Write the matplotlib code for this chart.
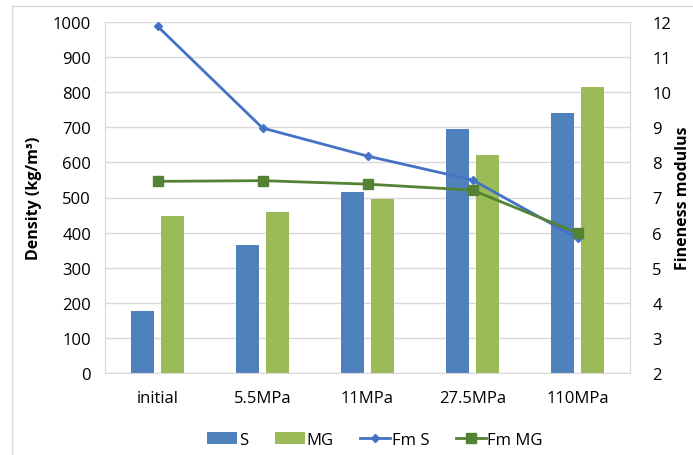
import numpy as np
import matplotlib.pyplot as plt
from matplotlib.patches import Rectangle

plt.rcParams['font.family'] = ['Open Sans', 'DejaVu Sans']

categories = ['initial', '5.5MPa', '11MPa', '27.5MPa', '110MPa']
density_s = [177, 365, 517, 696, 740]
density_mg = [447, 460, 495, 621, 814]
fm_s = [11.88, 8.98, 8.18, 7.50, 5.84]
fm_mg = [7.46, 7.48, 7.38, 7.21, 5.99]

blue_bar = '#4F81BD'
green_bar = '#9BBB59'
blue_line = '#4472C4'
green_line = '#548235'
grid_col = '#D9D9D9'

fig = plt.figure(figsize=(6.93, 4.56), dpi=100)
ax = fig.add_axes([105 / 693, 1 - 374 / 456, 525 / 693, 351 / 456])
ax2 = ax.twinx()

x = np.arange(len(categories))
w = 0.22
ax.bar(x - 0.143, density_s, w, color=blue_bar, label='S', zorder=2)
ax.bar(x + 0.143, density_mg, w, color=green_bar, label='MG', zorder=2)

ax.set_xlim(-0.5, len(categories) - 0.5)
ax.set_ylim(0, 1000)
ax.set_yticks(range(0, 1001, 100))
ax.set_xticks(x)
ax.set_xticklabels(categories)
ax.grid(axis='y', color=grid_col, linewidth=1, zorder=0)
ax.set_axisbelow(True)
ax.tick_params(length=0, labelsize=12, pad=10)
ax.tick_params(axis='x', pad=12)
ax.set_ylabel('Density (kg/m³)', fontsize=11.5, fontweight='bold', labelpad=8)

ax2.plot(x, fm_s, color=blue_line, linewidth=2, marker='D', markersize=4.5,
         label='Fm S', zorder=3)
ax2.plot(x, fm_mg, color=green_line, linewidth=2, marker='s', markersize=6.5,
         label='Fm MG', zorder=3)
ax2.set_ylim(2, 12)
ax2.set_yticks(range(2, 13))
ax2.tick_params(length=0, labelsize=12, pad=16)
ax2.set_ylabel('Fineness modulus', fontsize=11.5, fontweight='bold', labelpad=3)

for a in (ax, ax2):
    for side in ('top', 'left'):
        a.spines[side].set_visible(False)
    a.spines['bottom'].set_color(grid_col)
    a.spines['right'].set_color(grid_col)
ax.spines['right'].set_visible(False)
ax2.spines['bottom'].set_visible(False)
ax.spines['left'].set_visible(True)
ax.spines['left'].set_color(grid_col)

# outer chart frame
fig.patches.append(Rectangle((12 / 693, -0.1), 1.2, 1 - 7 / 456 + 0.1,
                             transform=fig.transFigure, fill=False,
                             edgecolor='#D9D9D9', linewidth=1))

h1, l1 = ax.get_legend_handles_labels()
h2, l2 = ax2.get_legend_handles_labels()
fig.legend(h1 + h2, l1 + l2, loc='center', bbox_to_anchor=(375 / 693, 1 - 441 / 456),
           ncol=4, frameon=False, fontsize=12, handlelength=1.8,
           handletextpad=0.1, columnspacing=1.6)

fig.savefig('out.png', dpi=100)
